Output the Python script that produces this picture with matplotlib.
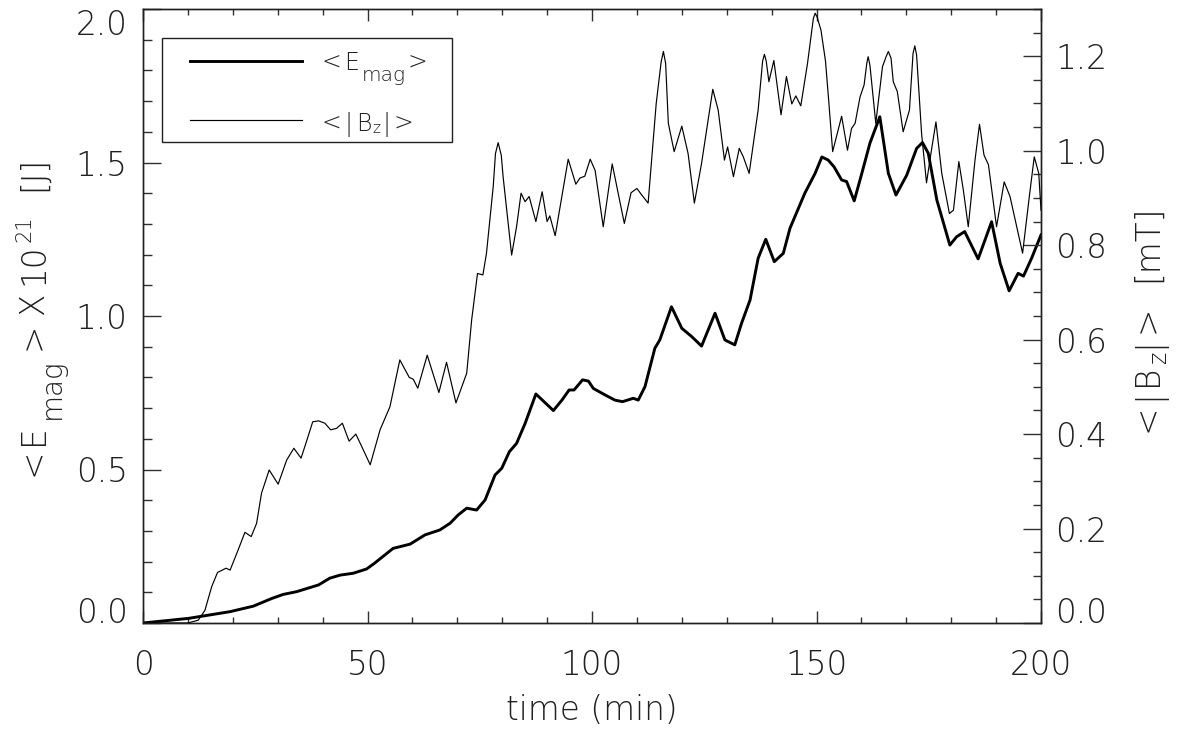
import matplotlib
matplotlib.use("Agg")
import matplotlib.pyplot as plt
from matplotlib import font_manager as fm
from matplotlib.patches import Rectangle
from matplotlib.lines import Line2D
from matplotlib.transforms import IdentityTransform

# ---- data -------------------------------------------------------------
# mean magnetic energy (10^21 J) versus time (min)
t_emag = [0, 10.1, 19.4, 24.6, 28.7, 31.2, 34.2, 39.1, 41.6, 43.9, 46.8, 49.8,
          51.5, 55.7, 59.5, 62.8, 66.1, 68.4, 70.2, 72.1, 74.3, 76.2, 78.4,
          79.9, 81.6, 83.2, 85.1, 87.5, 91.4, 93.3, 94.9, 96.0, 97.9, 99.2,
          100.3, 102.9, 105.1, 106.8, 109.2, 110.3, 111.8, 114.0, 115.1,
          117.7, 120.0, 122.2, 124.4, 127.4, 129.6, 131.8, 133.3, 135.2,
          137.0, 138.7, 140.6, 142.6, 144.1, 147.4, 149.7, 151.2, 152.6,
          153.9, 155.6, 156.7, 158.4, 160.1, 161.9, 164.1, 166.0, 167.7,
          170.1, 172.3, 173.6, 174.9, 176.8, 179.7, 181.2, 183.0, 186.0,
          189.0, 190.9, 192.9, 194.9, 196.1, 197.9, 200.0]
emag = [0.0, 0.015, 0.037, 0.055, 0.080, 0.093, 0.102, 0.124, 0.146, 0.156,
        0.162, 0.176, 0.194, 0.243, 0.257, 0.287, 0.303, 0.325, 0.352, 0.374,
        0.368, 0.401, 0.482, 0.504, 0.558, 0.585, 0.650, 0.746, 0.692, 0.726,
        0.759, 0.759, 0.792, 0.788, 0.764, 0.743, 0.726, 0.721, 0.732, 0.726,
        0.770, 0.895, 0.922, 1.030, 0.960, 0.933, 0.902, 1.009, 0.922, 0.906,
        0.976, 1.052, 1.188, 1.250, 1.177, 1.204, 1.286, 1.400, 1.465, 1.518,
        1.508, 1.486, 1.443, 1.438, 1.375, 1.465, 1.563, 1.649, 1.465, 1.394,
        1.459, 1.546, 1.565, 1.530, 1.378, 1.231, 1.258, 1.275, 1.186, 1.307,
        1.172, 1.082, 1.139, 1.130, 1.188, 1.264]

# mean unsigned vertical field (mT) versus time (min)
t_bz = [0, 10.0, 12.3, 13.8, 15.3, 16.6, 18.5, 19.4, 21.2, 22.7, 24.1, 25.3,
        26.4, 28.1, 30.1, 32.0, 33.6, 35.2, 36.5, 37.8, 39.1, 40.5, 41.8,
        43.1, 44.4, 45.9, 47.4, 48.8, 50.6, 52.8, 55.0, 57.2, 59.3, 60.2,
        61.2, 63.3, 65.9, 67.6, 69.7, 71.0, 72.1, 73.2, 74.5, 75.7, 76.5,
        78.0, 78.5, 79.1, 79.8, 80.2, 82.1, 83.2, 84.2, 85.1, 86.0, 87.5,
        88.9, 90.0, 90.6, 91.8, 94.7, 96.4, 97.3, 98.4, 99.6, 100.7, 102.5,
        104.5, 107.2, 108.7, 110.0, 111.1, 112.5, 114.3, 115.4, 115.9, 116.4,
        117.0, 118.3, 120.0, 121.4, 122.8, 124.4, 126.9, 128.1, 129.5, 130.2,
        131.5, 132.8, 133.7, 135.0, 137.0, 138.0, 138.4, 138.8, 139.4, 140.5,
        142.1, 143.3, 144.5, 145.4, 146.5, 148.0, 149.3, 149.7, 150.1, 151.0,
        152.0, 152.6, 153.6, 155.6, 156.9, 157.8, 158.6, 159.7, 160.6, 161.2,
        161.5, 161.9, 163.2, 164.7, 165.5, 166.0, 166.6, 167.1, 168.0, 169.3,
        170.7, 171.5, 171.9, 172.3, 173.4, 174.5, 175.6, 176.6, 177.9, 179.6,
        180.5, 181.7, 182.7, 183.8, 185.3, 186.3, 187.3, 188.3, 190.1, 191.8,
        193.1, 194.6, 195.9, 197.4, 198.5, 199.5, 200.0]
bz = [0.0, 0.0, 0.006, 0.027, 0.077, 0.107, 0.116, 0.112, 0.155, 0.192, 0.183,
      0.211, 0.275, 0.324, 0.294, 0.345, 0.370, 0.349, 0.387, 0.426, 0.428,
      0.423, 0.409, 0.412, 0.423, 0.385, 0.400, 0.372, 0.335, 0.409, 0.458,
      0.557, 0.520, 0.516, 0.497, 0.567, 0.488, 0.552, 0.466, 0.500, 0.529,
      0.642, 0.740, 0.737, 0.783, 0.924, 0.994, 1.017, 0.990, 0.945, 0.779,
      0.839, 0.910, 0.892, 0.903, 0.850, 0.913, 0.850, 0.862, 0.820, 0.982,
      0.929, 0.942, 0.946, 0.982, 0.958, 0.839, 0.972, 0.846, 0.911, 0.920,
      0.906, 0.889, 1.100, 1.188, 1.210, 1.185, 1.058, 0.998, 1.052, 0.994,
      0.889, 0.973, 1.130, 1.086, 0.980, 1.008, 0.945, 1.005, 0.987, 0.952,
      1.086, 1.190, 1.204, 1.190, 1.146, 1.191, 1.076, 1.157, 1.099, 1.116,
      1.095, 1.185, 1.280, 1.291, 1.284, 1.255, 1.190, 1.120, 0.998, 1.073,
      1.001, 1.047, 1.058, 1.114, 1.139, 1.185, 1.199, 1.181, 1.058, 1.178,
      1.199, 1.210, 1.196, 1.146, 1.125, 1.040, 1.086, 1.206, 1.222, 1.202,
      1.037, 0.932, 1.001, 1.061, 0.952, 0.867, 0.874, 0.977, 0.917, 0.839,
      0.980, 1.056, 0.991, 0.970, 0.839, 0.934, 0.903, 0.839, 0.783, 0.903,
      0.987, 0.952, 0.874]

x_ticks = [0, 50, 100, 150, 200]
x_tick_labels = ["0", "50", "100", "150", "200"]
left_ticks = [0.0, 0.5, 1.0, 1.5, 2.0]
left_tick_labels = ["0.0", "0.5", "1.0", "1.5", "2.0"]
right_ticks = [0.0, 0.2, 0.4, 0.6, 0.8, 1.0, 1.2]
right_tick_labels = ["0.0", "0.2", "0.4", "0.6", "0.8", "1.0", "1.2"]


# ---- thin lettering ---------------------------------------------------
def light_family():
    for fam in ["DejaVu Sans", "Lato", "Roboto", "Open Sans", "Noto Sans", "Inter"]:
        for f in fm.fontManager.ttflist:
            if f.name == fam and isinstance(f.weight, int) and f.weight <= 300 \
                    and f.style == "normal":
                return fam, f.weight
    return "DejaVu Sans", "normal"


FAM, WT = light_family()
plt.rcParams["font.family"] = [FAM, "DejaVu Sans"]
plt.rcParams["font.weight"] = WT

TXT = "#202020"
W, H = 1179, 736

fig = plt.figure(figsize=(W / 100, H / 100), dpi=100)
ax = fig.add_axes([143 / W, 1 - 623 / H, 898 / W, 614 / H])
ax2 = ax.twinx()

ax.plot(t_emag, emag, color="black", lw=2.1, solid_joinstyle="round")
ax2.plot(t_bz, bz, color="black", lw=0.85, solid_joinstyle="round")

ax.set_xlim(0, 200)
ax.set_ylim(0, 2.0)
ax2.set_ylim(0, 1.3)

ax.set_xticks(x_ticks)
ax.set_xticklabels(x_tick_labels)
ax.set_xticks(range(0, 201, 10), minor=True)
ax.set_yticks(left_ticks)
ax.set_yticklabels(left_tick_labels)
ax.set_yticks([i / 10 for i in range(0, 21)], minor=True)
ax2.set_yticks(right_ticks)
ax2.set_yticklabels(right_tick_labels)
ax2.set_yticks([i * 0.05 for i in range(0, 27)], minor=True)

FS = 23.5
ax.tick_params(axis="x", which="both", direction="in", top=True, bottom=True,
               labelsize=FS, pad=19, colors="#303030", labelcolor=TXT, width=1.0)
ax.tick_params(axis="x", which="major", length=8.6)
ax.tick_params(axis="x", which="minor", length=4.3)
ax.tick_params(axis="y", which="both", direction="in", left=True, right=False,
               labelsize=FS, pad=11, colors="#303030", labelcolor=TXT, width=1.0)
ax.tick_params(axis="y", which="major", length=13)
ax.tick_params(axis="y", which="minor", length=6.5)
ax2.tick_params(axis="y", which="both", direction="in", right=True, left=False,
                labelsize=FS, pad=10, colors="#303030", labelcolor=TXT, width=1.0)
ax2.tick_params(axis="y", which="major", length=13)
ax2.tick_params(axis="y", which="minor", length=6)

for a in (ax, ax2):
    for s in a.spines.values():
        s.set_linewidth(1.0)
        s.set_color("#202020")

# end labels sit inside the axis range
ax.yaxis.get_major_ticks()[0].label1.set_verticalalignment("baseline")
ax.yaxis.get_major_ticks()[-1].label1.set_verticalalignment("top")
ax2.yaxis.get_major_ticks()[0].label2.set_verticalalignment("baseline")

renderer = fig.canvas.get_renderer()


def compose(cx, cy, parts, rotation=0, center=True):
    """Lay out text pieces with free sub/superscript size and offset.

    parts: (text, fontsize, shift_px, gap_px) -- shift > 0 lowers the piece,
    gap is the space left before it. cx, cy in pixels from the top-left;
    the run is centred on (cx, cy) or starts there when center is False.
    """
    objs = []
    for s, fs, shift, gap in parts:
        t = fig.text(0, 0, s, fontsize=fs, color=TXT, rotation=rotation,
                     rotation_mode="anchor", ha="left", va="baseline",
                     transform=IdentityTransform())
        bb = t.get_window_extent(renderer=renderer)
        length = bb.height if rotation == 90 else bb.width
        objs.append((t, shift, gap, length))
    total = sum(g + L for _, _, g, L in objs)
    pos = -total / 2 if center else 0.0
    base_y = H - cy
    for t, shift, gap, length in objs:
        pos += gap
        if rotation == 90:
            t.set_position((cx + shift, base_y + pos))
        else:
            t.set_position((cx + pos, base_y - shift))
        pos += length
    return objs


# axis titles
fig.text(592 / W, 1 - 711 / H, "time (min)", ha="center", va="center",
         fontsize=FS, color=TXT)
compose(43, 316, [("<", FS, 0, 0), ("E", FS, 0, 3), ("mag", 20, 17, 6),
                  (">", FS, 0, 8), ("X", FS, 0, 8), ("10", FS, 0, 7),
                  ("21", 15, -13, 2), ("[J]", FS, 0, 24)], rotation=90)
compose(1157, 318, [("<", FS, 0, 0), ("|", FS, 0, 4), ("B", FS, 0, 4),
                    ("z", 17, 9, 1), ("|", FS, 0, 3), (">", FS, 0, 4),
                    ("[mT]", FS, 0, 24)], rotation=90)

# key box
ax.add_patch(Rectangle((0.021, 0.783), 0.323, 0.170, transform=ax.transAxes,
                       fill=False, lw=1.0, edgecolor="#202020", zorder=5))
ax.add_line(Line2D([0.052, 0.177], [0.915, 0.915], transform=ax.transAxes,
                   color="black", lw=2.1, zorder=6))
ax.add_line(Line2D([0.052, 0.177], [0.819, 0.819], transform=ax.transAxes,
                   color="black", lw=0.85, zorder=6))
LFS = 17
compose(322, 70, [("<", LFS, 0, 0), ("E", LFS, 0, 2), ("mag", 14.5, 11, 3),
                  (">", LFS, 0, 2)], center=False)
compose(322, 131, [("<", LFS, 0, 0), ("|", LFS, 0, 3), ("B", LFS, 0, 3),
                   ("z", 11, 2, 1), ("|", LFS, 0, 2), (">", LFS, 0, 3)],
        center=False)

fig.savefig("out.png", dpi=100, facecolor="white")
